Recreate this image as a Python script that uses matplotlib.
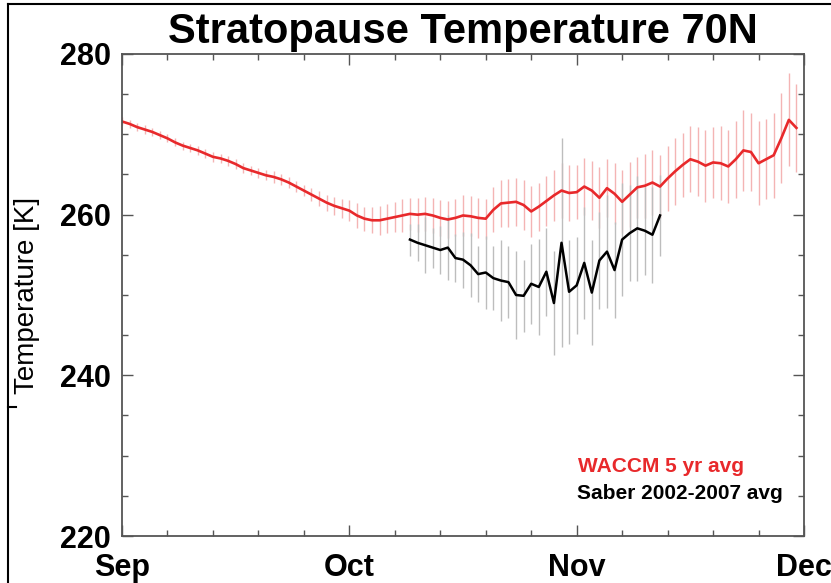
import numpy as np
import matplotlib.pyplot as plt
from matplotlib.lines import Line2D

plt.rcParams['font.family'] = ['Liberation Sans', 'DejaVu Sans']

# WACCM daily mean stratopause temperature from 1 Sep (day 0)
waccm_temp = [
    271.6, 271.3, 270.9, 270.6, 270.3, 269.9, 269.5, 269.0, 268.6, 268.3,
    268.0, 267.6, 267.2, 267.0, 266.7, 266.3, 265.8, 265.5, 265.2, 264.9,
    264.7, 264.4, 264.0, 263.5, 263.0, 262.5, 262.0, 261.5, 261.1, 260.8,
    260.5, 259.9, 259.5, 259.3, 259.3, 259.5, 259.7, 259.9, 260.1, 260.0,
    260.1, 259.9, 259.6, 259.4, 259.6, 259.9, 259.8, 259.6, 259.5, 260.6,
    261.4, 261.5, 261.6, 261.2, 260.4, 261.0, 261.7, 262.4, 263.0, 262.7,
    262.8, 263.5, 263.0, 262.1, 263.3, 262.6, 261.6, 262.5, 263.4, 263.6,
    264.0, 263.5, 264.5, 265.4, 266.2, 266.9, 266.6, 266.1, 266.5, 266.4,
    266.0, 266.9, 268.0, 267.8, 266.4, 266.9, 267.4, 269.5, 271.8, 270.8,
]
waccm_sd = [
    0.5, 0.5, 0.5, 0.5, 0.5, 0.5, 0.5, 0.5, 0.5, 0.5,
    0.6, 0.6, 0.6, 0.6, 0.6, 0.6, 0.6, 0.6, 0.6, 0.6,
    0.7, 0.7, 0.7, 0.7, 0.7, 0.8, 0.9, 1.0, 1.1, 1.2,
    1.3, 1.5, 1.5, 1.6, 1.8, 1.8, 1.9, 2.0, 2.0, 2.1,
    2.1, 2.2, 2.2, 2.3, 2.3, 2.5, 2.5, 2.5, 2.5, 2.8,
    2.9, 3.0, 3.0, 3.1, 3.2, 3.0, 3.1, 3.2, 3.4, 3.5,
    3.4, 3.6, 3.7, 3.8, 3.6, 3.8, 3.9, 4.0, 3.8, 4.0,
    4.1, 3.9, 4.0, 4.2, 4.0, 4.1, 4.3, 4.5, 4.4, 4.6,
    4.5, 4.8, 5.0, 4.8, 5.2, 5.0, 5.3, 5.6, 5.8, 5.5,
]

# SABER 2002-2007 average, 8 Oct to 11 Nov
saber_day = [38, 39, 40, 41, 42, 43, 44, 45, 46, 47, 48, 49, 50, 51, 52, 53, 54,
             55, 56, 57, 58, 59, 60, 61, 62, 63, 64, 65, 66, 67, 68, 69, 70, 71]
saber_temp = [
    256.9, 256.5, 256.2, 255.9, 255.6, 255.9, 254.6, 254.4, 253.7, 252.6,
    252.8, 252.1, 251.8, 251.6, 250.0, 249.9, 251.4, 251.0, 252.9, 249.0,
    256.5, 250.4, 251.2, 254.0, 250.3, 254.3, 255.4, 253.1, 256.9, 257.7,
    258.3, 258.0, 257.5, 259.9,
]
saber_sd = [
    2.0, 2.3, 3.5, 2.5, 3.0, 4.0, 3.0, 3.5, 4.0, 3.5,
    4.5, 4.0, 5.0, 4.5, 5.5, 4.5, 5.0, 6.0, 5.5, 6.5,
    13.0, 6.5, 6.0, 7.0, 6.5, 6.0, 7.0, 6.0, 7.0, 6.0,
    6.5, 5.5, 6.0, 5.0,
]

month_ticks = [0, 30, 60, 90]
month_labels = ['Sep', 'Oct', 'Nov', 'Dec']

red = '#e8292b'
waccm_day = list(range(len(waccm_temp)))

fig = plt.figure(figsize=(8.31, 5.83), dpi=100)
ax = fig.add_axes([122 / 831, 1 - 536 / 583, 682 / 831, 482 / 583])

ax.errorbar(waccm_day, waccm_temp, yerr=waccm_sd, fmt='none',
            ecolor='#f4b4b4', elinewidth=1.0, capsize=0)
ax.errorbar(saber_day, saber_temp, yerr=saber_sd, fmt='none',
            ecolor='#bdbdbd', elinewidth=1.0, capsize=0)
ax.plot(waccm_day, waccm_temp, color=red, lw=1.9)
ax.plot(saber_day, saber_temp, color='black', lw=1.8)

ax.set_xlim(0, 90)
ax.set_ylim(220, 280)
ax.set_xticks(month_ticks)
ax.set_xticklabels(month_labels)
ax.set_xticks(np.arange(0, 91, 6), minor=True)
ax.set_yticks([220, 240, 260, 280])
ax.set_yticks(np.arange(220, 281, 5), minor=True)

ax.tick_params(which='both', direction='in', top=True, right=True,
               color='#555555', width=1.0)
ax.tick_params(which='major', length=8)
ax.tick_params(which='minor', length=4)
ax.tick_params(axis='y', labelsize=22, pad=8)
ax.tick_params(axis='x', labelsize=22, pad=12)
for lab in ax.get_xticklabels() + ax.get_yticklabels():
    lab.set_fontweight('bold')
for sp in ax.spines.values():
    sp.set_color('#555555')
    sp.set_linewidth(1.3)

ax.set_ylabel('Temperature [K]', fontsize=20, labelpad=14)
ax.set_title('Stratopause Temperature 70N', fontsize=30, fontweight='bold', pad=8)

ax.text(0.669, 0.145, 'WACCM 5 yr avg', transform=ax.transAxes, color=red,
        fontsize=15, fontweight='bold', va='center')
ax.text(0.667, 0.089, 'Saber 2002-2007 avg', transform=ax.transAxes,
        color='black', fontsize=15, fontweight='bold', va='center')

# outer frame of the page
fig.add_artist(Line2D([8 / 831, 8 / 831], [0, 1 - 4 / 583], color='black', lw=1.5))
fig.add_artist(Line2D([8 / 831, 1], [1 - 4 / 583, 1 - 4 / 583], color='black', lw=1.5))
fig.add_artist(Line2D([8 / 831, 16 / 831], [1 - 407 / 583, 1 - 407 / 583], color='black', lw=1.5))

fig.savefig('out.png', dpi=100)
